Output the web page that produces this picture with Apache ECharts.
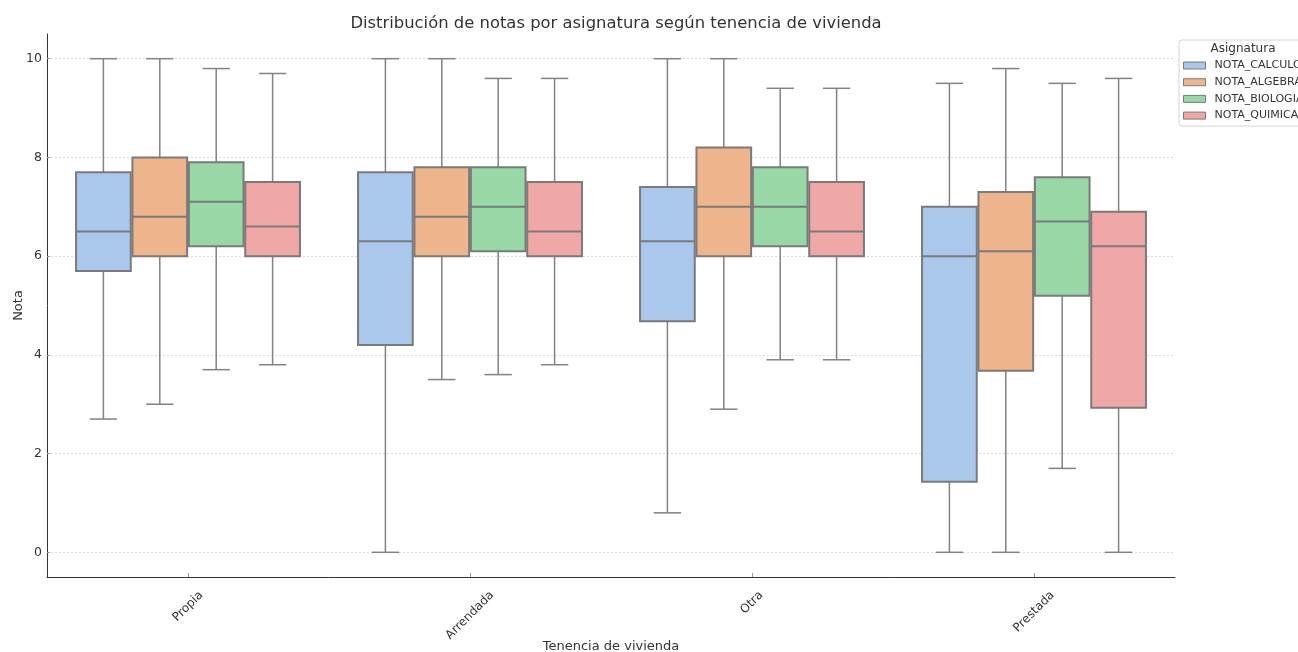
<!DOCTYPE html>
<html>
<head>
<meta charset="utf-8">
<script src="https://cdn.jsdelivr.net/npm/echarts@6/dist/echarts.min.js"></script>
<style>
  html, body { margin: 0; padding: 0; background: #ffffff; }
  #chart { width: 1298px; height: 652px; }
</style>
</head>
<body>
<div id="chart"></div>
<script>
// Housing tenure groups on the x axis
const categories = ['Propia', 'Arrendada', 'Otra', 'Prestada'];
// Subjects (one box per subject inside each group)
const subjects = ['NOTA_CALCULO', 'NOTA_ALGEBRA', 'NOTA_BIOLOGIA', 'NOTA_QUIMICA'];

// Five-number summaries per group: [min, q1, median, q3, max]
const notaCalculo = [
  [2.7, 5.7, 6.5, 7.7, 10.0],
  [0.0, 4.2, 6.3, 7.7, 10.0],
  [0.8, 4.68, 6.3, 7.4, 10.0],
  [0.0, 1.43, 6.0, 7.0, 9.5]
];
const notaAlgebra = [
  [3.0, 6.0, 6.8, 8.0, 10.0],
  [3.5, 6.0, 6.8, 7.8, 10.0],
  [2.9, 6.0, 7.0, 8.2, 10.0],
  [0.0, 3.68, 6.1, 7.3, 9.8]
];
const notaBiologia = [
  [3.7, 6.2, 7.1, 7.9, 9.8],
  [3.6, 6.1, 7.0, 7.8, 9.6],
  [3.9, 6.2, 7.0, 7.8, 9.4],
  [1.7, 5.2, 6.7, 7.6, 9.5]
];
const notaQuimica = [
  [3.8, 6.0, 6.6, 7.5, 9.7],
  [3.8, 6.0, 6.5, 7.5, 9.6],
  [3.9, 6.0, 6.5, 7.5, 9.4],
  [0.0, 2.93, 6.2, 6.9, 9.6]
];

const summaries = [notaCalculo, notaAlgebra, notaBiologia, notaQuimica];
const fills = ['#a9c8ec', '#eeb58d', '#98d8a7', '#f0a8a7'];
const edge = '#7a7a7a';
const FONT = '"DejaVu Sans", sans-serif';

// Rotated tick labels are centred under their tick with the top of the
// rotated text at a fixed distance below the axis (padding shifts the
// text along its own rotated frame).
const measureCtx = document.createElement('canvas').getContext('2d');
measureCtx.font = '12px "DejaVu Sans"';
const labelRich = {};
categories.forEach(function (c, i) {
  const w = measureCtx.measureText(c).width;
  const p = 0.5 * (w + 12);
  labelRich['c' + i] = { padding: [p, p, 0, 0], fontSize: 12, fontFamily: FONT, color: '#333' };
});

function makeBoxRenderer(hue) {
  return function (params, api) {
    const ci = api.value(0);
    const band = api.size([1, 0])[0];
    const slot = band * 0.8 / subjects.length;
    const cx = api.coord([ci, 0])[0] + (hue - (subjects.length - 1) / 2) * slot;
    const bw = slot * 0.97;
    const yOf = function (dim) { return api.coord([ci, api.value(dim)])[1]; };
    const yMin = yOf(1), yQ1 = yOf(2), yMed = yOf(3), yQ3 = yOf(4), yMax = yOf(5);
    const ls = { stroke: '#828282', lineWidth: 1.5 };
    return {
      type: 'group',
      children: [
        { type: 'line', shape: { x1: cx, y1: yQ3, x2: cx, y2: yMax }, style: ls },
        { type: 'line', shape: { x1: cx, y1: yQ1, x2: cx, y2: yMin }, style: ls },
        { type: 'line', shape: { x1: cx - bw / 4, y1: yMax, x2: cx + bw / 4, y2: yMax }, style: ls },
        { type: 'line', shape: { x1: cx - bw / 4, y1: yMin, x2: cx + bw / 4, y2: yMin }, style: ls },
        { type: 'rect', shape: { x: cx - bw / 2, y: yQ3, width: bw, height: yQ1 - yQ3 },
          style: { fill: fills[hue], stroke: edge, lineWidth: 2 } },
        { type: 'line', shape: { x1: cx - bw / 2, y1: yMed, x2: cx + bw / 2, y2: yMed },
          style: { stroke: edge, lineWidth: 2 } }
      ]
    };
  };
}

const series = subjects.map(function (name, hue) {
  return {
    name: name,
    type: 'custom',
    renderItem: makeBoxRenderer(hue),
    encode: { x: 0, y: [1, 2, 3, 4, 5] },
    itemStyle: { color: fills[hue], borderColor: edge, borderWidth: 1 },
    data: summaries[hue].map(function (s, ci) { return [ci].concat(s); })
  };
});

const chart = echarts.init(document.getElementById('chart'), null, { renderer: 'canvas' });
chart.setOption({
  animation: false,
  backgroundColor: '#ffffff',
  textStyle: { fontFamily: FONT },
  title: {
    text: 'Distribución de notas por asignatura según tenencia de vivienda',
    left: 611,
    textAlign: 'center',
    top: 11,
    textStyle: { fontSize: 16.4, fontWeight: 'normal', color: '#333', fontFamily: FONT }
  },
  legend: {
    data: subjects.map(function (s, i) {
      return { name: s, icon: 'rect', itemStyle: { color: fills[i], borderColor: edge, borderWidth: 1 } };
    }),
    orient: 'vertical',
    left: 1179,
    top: 40,
    padding: [20, 30, 5, 4],
    itemWidth: 22,
    itemHeight: 7,
    itemGap: 5.7,
    borderColor: '#d4d4d4',
    borderWidth: 1,
    borderRadius: 3,
    backgroundColor: '#ffffff',
    selectedMode: false,
    textStyle: { fontSize: 11, color: '#333', fontFamily: FONT, padding: [0, 0, 0, 4] }
  },
  graphic: [{
    type: 'text',
    x: 1243,
    y: 49,
    z: 100,
    style: { text: 'Asignatura', fill: '#333', font: '12px "DejaVu Sans"', align: 'center', verticalAlign: 'middle' }
  }],
  grid: { left: 47, right: 123, top: 34, bottom: 75, outerBoundsMode: 'none', containLabel: false },
  xAxis: {
    type: 'category',
    data: categories,
    boundaryGap: true,
    name: 'Tenencia de vivienda',
    nameLocation: 'middle',
    nameGap: 63,
    nameMoveOverlap: false,
    nameTextStyle: { fontSize: 13, color: '#333', fontFamily: FONT },
    axisLine: { onZero: false, lineStyle: { color: '#333', width: 1 } },
    axisTick: { show: true, inside: true, alignWithLabel: true, length: 4, lineStyle: { color: '#999' } },
    axisLabel: {
      rotate: 45,
      margin: 12,
      align: 'center',
      verticalAlign: 'middle',
      interval: 0,
      formatter: function (v, i) { return '{c' + i + '|' + v + '}'; },
      rich: labelRich
    },
    splitLine: { show: false }
  },
  yAxis: {
    type: 'value',
    min: -0.5,
    max: 10.5,
    splitNumber: 5,
    name: 'Nota',
    nameLocation: 'middle',
    nameGap: 22,
    nameMoveOverlap: false,
    nameTextStyle: { fontSize: 13, color: '#333', fontFamily: FONT },
    axisLine: { show: true, lineStyle: { color: '#333', width: 1 } },
    axisTick: { show: true, inside: true, length: 3, lineStyle: { color: '#999' } },
    axisLabel: { fontSize: 12.5, color: '#333', margin: 5, showMinLabel: false, showMaxLabel: false, fontFamily: FONT },
    splitLine: { show: true, showMinLine: false, showMaxLine: false, lineStyle: { color: '#dcdcdc', type: [2, 2], width: 1 } }
  },
  series: series
});
</script>
</body>
</html>
